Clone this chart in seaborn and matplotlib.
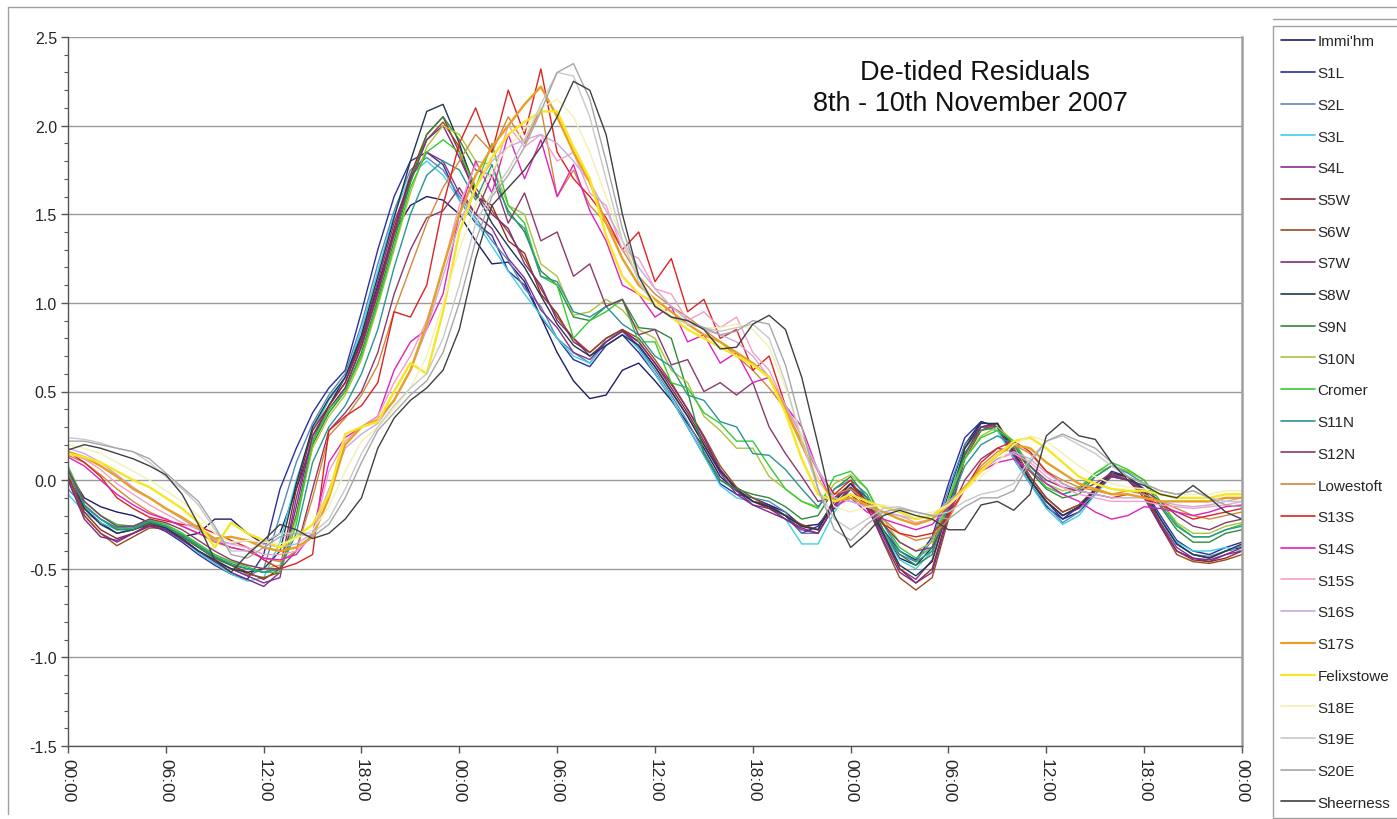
import matplotlib
matplotlib.use("Agg")
import matplotlib.pyplot as plt
from matplotlib.lines import Line2D
from matplotlib.ticker import MultipleLocator, FormatStrFormatter
import numpy as np
import pandas as pd
import seaborn as sns

# ---------------- data (hourly, 00:00 8 Nov -> 00:00 11 Nov 2007) ----------------
hours = list(range(0, 73))
tick_hours = list(range(0, 73, 6))
tick_labels = ["00:00", "06:00", "12:00", "18:00"] * 3 + ["00:00"]

immingham = [0.05, -0.10, -0.15, -0.18, -0.20, -0.24, -0.27, -0.32, -0.30, -0.22, -0.22, -0.30,
             -0.36, -0.30, -0.05, 0.22, 0.42, 0.58, 0.80, 1.10, 1.40, 1.55, 1.60, 1.58,
             1.50, 1.35, 1.22, 1.23, 1.12, 0.92, 0.72, 0.56, 0.46, 0.48, 0.62, 0.66,
             0.56, 0.45, 0.32, 0.18, 0.02, -0.06, -0.12, -0.14, -0.18, -0.26, -0.25, -0.16,
             -0.08, -0.16, -0.30, -0.44, -0.48, -0.38, -0.08, 0.20, 0.33, 0.30, 0.12, -0.02,
             -0.15, -0.22, -0.18, -0.08, 0.03, 0.00, -0.08, -0.22, -0.36, -0.42, -0.44, -0.40,
             -0.38]
s1l = [0.02, -0.16, -0.24, -0.30, -0.28, -0.25, -0.29, -0.35, -0.42, -0.48, -0.53, -0.56,
       -0.42, -0.05, 0.18, 0.38, 0.52, 0.62, 0.95, 1.30, 1.60, 1.80, 1.85, 1.78,
       1.58, 1.45, 1.38, 1.18, 1.10, 0.92, 0.80, 0.68, 0.64, 0.76, 0.82, 0.72,
       0.60, 0.46, 0.30, 0.14, -0.02, -0.08, -0.10, -0.14, -0.20, -0.30, -0.26, -0.12,
       -0.02, -0.10, -0.28, -0.40, -0.45, -0.32, -0.02, 0.24, 0.33, 0.30, 0.15, 0.00,
       -0.12, -0.22, -0.15, -0.05, 0.05, 0.02, -0.05, -0.20, -0.34, -0.40, -0.42, -0.38,
       -0.35]
s2l = [-0.05, -0.15, -0.22, -0.27, -0.26, -0.24, -0.28, -0.33, -0.40, -0.46, -0.50, -0.54,
       -0.50, -0.20, 0.10, 0.32, 0.48, 0.60, 0.88, 1.22, 1.52, 1.75, 1.82, 1.75,
       1.60, 1.48, 1.35, 1.24, 1.08, 0.98, 0.80, 0.72, 0.66, 0.78, 0.85, 0.75,
       0.62, 0.48, 0.33, 0.16, 0.00, -0.06, -0.10, -0.12, -0.18, -0.30, -0.30, -0.14,
       -0.04, -0.12, -0.30, -0.42, -0.46, -0.34, -0.05, 0.20, 0.30, 0.28, 0.14, 0.00,
       -0.14, -0.24, -0.18, -0.06, 0.04, 0.00, -0.06, -0.22, -0.36, -0.42, -0.43, -0.40,
       -0.37]
s3l = [-0.08, -0.18, -0.24, -0.28, -0.27, -0.23, -0.27, -0.33, -0.41, -0.47, -0.53, -0.57,
       -0.55, -0.35, 0.00, 0.28, 0.45, 0.58, 0.85, 1.18, 1.50, 1.72, 1.80, 1.72,
       1.58, 1.46, 1.32, 1.18, 1.05, 0.93, 0.80, 0.70, 0.66, 0.80, 0.84, 0.74,
       0.60, 0.46, 0.30, 0.14, -0.03, -0.10, -0.12, -0.15, -0.22, -0.36, -0.36, -0.18,
       -0.05, -0.12, -0.30, -0.45, -0.50, -0.40, -0.10, 0.18, 0.30, 0.28, 0.12, -0.02,
       -0.16, -0.25, -0.20, -0.08, 0.02, 0.00, -0.06, -0.22, -0.35, -0.40, -0.40, -0.38,
       -0.40]
s4l = [0.00, -0.20, -0.30, -0.35, -0.30, -0.26, -0.28, -0.34, -0.40, -0.45, -0.50, -0.54,
       -0.58, -0.55, -0.10, 0.25, 0.42, 0.55, 0.80, 1.12, 1.45, 1.70, 1.85, 1.80,
       1.62, 1.50, 1.42, 1.25, 1.14, 0.96, 0.86, 0.72, 0.68, 0.78, 0.84, 0.76,
       0.64, 0.50, 0.36, 0.20, 0.04, -0.08, -0.14, -0.16, -0.22, -0.28, -0.30, -0.15,
       -0.05, -0.15, -0.32, -0.50, -0.56, -0.45, -0.15, 0.18, 0.30, 0.30, 0.14, 0.00,
       -0.12, -0.20, -0.15, -0.06, 0.02, 0.00, -0.08, -0.24, -0.38, -0.44, -0.46, -0.42,
       -0.38]
s5w = [0.02, -0.18, -0.28, -0.33, -0.30, -0.25, -0.27, -0.32, -0.38, -0.44, -0.48, -0.52,
       -0.56, -0.50, -0.05, 0.28, 0.42, 0.55, 0.78, 1.08, 1.42, 1.72, 1.95, 2.05,
       1.85, 1.60, 1.55, 1.35, 1.28, 1.05, 0.94, 0.78, 0.72, 0.80, 0.85, 0.78,
       0.66, 0.52, 0.38, 0.22, 0.06, -0.05, -0.12, -0.16, -0.20, -0.26, -0.28, -0.10,
       -0.02, -0.12, -0.30, -0.50, -0.58, -0.50, -0.18, 0.15, 0.30, 0.32, 0.18, 0.02,
       -0.10, -0.18, -0.14, -0.05, 0.04, 0.02, -0.08, -0.25, -0.40, -0.45, -0.46, -0.44,
       -0.40]
s6w = [0.04, -0.20, -0.30, -0.37, -0.32, -0.27, -0.27, -0.31, -0.37, -0.43, -0.48, -0.53,
       -0.55, -0.52, -0.20, 0.22, 0.40, 0.52, 0.75, 1.05, 1.38, 1.68, 1.92, 2.02,
       1.88, 1.65, 1.52, 1.40, 1.25, 1.08, 0.92, 0.80, 0.72, 0.80, 0.85, 0.80,
       0.68, 0.55, 0.40, 0.25, 0.08, -0.04, -0.10, -0.15, -0.20, -0.25, -0.28, -0.12,
       -0.02, -0.14, -0.35, -0.55, -0.62, -0.55, -0.22, 0.12, 0.28, 0.32, 0.18, 0.02,
       -0.10, -0.18, -0.14, -0.05, 0.03, 0.02, -0.08, -0.26, -0.42, -0.46, -0.47, -0.45,
       -0.42]
s7w = [0.00, -0.22, -0.32, -0.34, -0.30, -0.26, -0.28, -0.33, -0.40, -0.46, -0.52, -0.56,
       -0.60, -0.52, -0.15, 0.25, 0.40, 0.52, 0.76, 1.06, 1.40, 1.70, 1.92, 2.00,
       1.82, 1.62, 1.50, 1.42, 1.22, 1.10, 0.90, 0.80, 0.70, 0.78, 0.84, 0.78,
       0.66, 0.54, 0.40, 0.24, 0.06, -0.06, -0.14, -0.18, -0.22, -0.27, -0.30, -0.14,
       -0.04, -0.15, -0.34, -0.52, -0.58, -0.52, -0.20, 0.14, 0.30, 0.32, 0.16, 0.00,
       -0.12, -0.20, -0.16, -0.06, 0.02, 0.00, -0.10, -0.26, -0.40, -0.44, -0.45, -0.42,
       -0.40]
s8w = [0.06, -0.16, -0.25, -0.30, -0.28, -0.24, -0.27, -0.33, -0.40, -0.45, -0.50, -0.52,
       -0.50, -0.40, -0.02, 0.30, 0.46, 0.58, 0.82, 1.15, 1.48, 1.80, 2.08, 2.12,
       1.90, 1.62, 1.45, 1.32, 1.20, 1.04, 0.88, 0.76, 0.70, 0.76, 0.82, 0.76,
       0.64, 0.50, 0.36, 0.20, 0.05, -0.05, -0.12, -0.15, -0.20, -0.26, -0.28, -0.12,
       -0.02, -0.12, -0.30, -0.48, -0.54, -0.46, -0.15, 0.18, 0.32, 0.32, 0.16, 0.00,
       -0.12, -0.20, -0.15, -0.05, 0.04, 0.02, -0.06, -0.22, -0.36, -0.42, -0.44, -0.40,
       -0.36]
s9n = [0.06, -0.14, -0.22, -0.28, -0.28, -0.24, -0.26, -0.32, -0.38, -0.44, -0.48, -0.50,
       -0.52, -0.50, -0.20, 0.20, 0.38, 0.50, 0.72, 1.02, 1.35, 1.68, 1.95, 2.05,
       1.92, 1.75, 1.72, 1.52, 1.40, 1.18, 1.10, 0.92, 0.90, 0.98, 1.02, 0.86,
       0.85, 0.80, 0.50, 0.15, 0.00, -0.05, -0.08, -0.10, -0.15, -0.22, -0.20, -0.05,
       0.02, -0.10, -0.28, -0.42, -0.48, -0.42, -0.12, 0.15, 0.28, 0.30, 0.20, 0.05,
       -0.05, -0.10, -0.08, 0.02, 0.08, 0.05, 0.00, -0.15, -0.28, -0.35, -0.35, -0.30,
       -0.28]
s10n = [0.04, -0.12, -0.20, -0.26, -0.26, -0.22, -0.25, -0.30, -0.36, -0.42, -0.46, -0.48,
        -0.50, -0.48, -0.22, 0.18, 0.36, 0.48, 0.68, 0.98, 1.30, 1.62, 1.88, 2.00,
        1.95, 1.80, 1.78, 1.55, 1.50, 1.22, 1.15, 0.93, 0.95, 1.02, 0.96, 0.85,
        0.80, 0.62, 0.55, 0.36, 0.28, 0.18, 0.18, 0.02, -0.05, -0.12, -0.15, -0.02,
        0.03, -0.05, -0.22, -0.35, -0.40, -0.35, -0.10, 0.12, 0.25, 0.30, 0.22, 0.08,
        -0.02, -0.06, -0.04, 0.04, 0.08, 0.05, 0.00, -0.12, -0.24, -0.30, -0.30, -0.26,
        -0.24]
cromer = [0.08, -0.12, -0.20, -0.25, -0.26, -0.23, -0.25, -0.30, -0.36, -0.42, -0.46, -0.49,
          -0.52, -0.52, -0.25, 0.22, 0.40, 0.50, 0.70, 1.00, 1.32, 1.65, 1.85, 1.92,
          1.85, 1.65, 1.90, 1.55, 1.45, 1.15, 1.10, 0.80, 0.90, 0.95, 1.02, 0.78,
          0.78, 0.55, 0.52, 0.38, 0.32, 0.22, 0.22, 0.08, -0.05, -0.12, -0.16, 0.02,
          0.05, -0.05, -0.24, -0.38, -0.44, -0.38, -0.12, 0.12, 0.24, 0.28, 0.22, 0.06,
          -0.04, -0.08, -0.05, 0.04, 0.10, 0.06, 0.00, -0.12, -0.25, -0.32, -0.32, -0.28,
          -0.25]
s11n = [0.05, -0.14, -0.22, -0.27, -0.27, -0.23, -0.26, -0.31, -0.37, -0.43, -0.47, -0.50,
        -0.52, -0.50, -0.30, 0.10, 0.30, 0.42, 0.60, 0.85, 1.20, 1.50, 1.72, 1.80,
        1.75, 1.58, 1.78, 1.50, 1.42, 1.15, 1.12, 0.95, 0.92, 0.98, 0.88, 0.82,
        0.70, 0.64, 0.48, 0.45, 0.33, 0.30, 0.15, 0.14, 0.06, -0.05, -0.15, -0.05,
        0.00, -0.08, -0.25, -0.40, -0.46, -0.40, -0.15, 0.08, 0.20, 0.25, 0.20, 0.08,
        -0.02, -0.08, -0.05, 0.02, 0.08, 0.04, -0.02, -0.14, -0.26, -0.32, -0.32, -0.28,
        -0.26]
s12n = [0.06, -0.12, -0.20, -0.26, -0.26, -0.22, -0.24, -0.28, -0.34, -0.40, -0.45, -0.48,
        -0.50, -0.50, -0.40, -0.05, 0.28, 0.38, 0.50, 0.72, 1.05, 1.30, 1.48, 1.52,
        1.65, 1.50, 1.72, 1.45, 1.62, 1.35, 1.40, 1.15, 1.22, 0.98, 1.02, 0.82,
        0.85, 0.65, 0.68, 0.50, 0.55, 0.48, 0.55, 0.30, 0.15, 0.02, -0.12, -0.10,
        -0.05, -0.12, -0.25, -0.35, -0.40, -0.38, -0.20, 0.00, 0.12, 0.18, 0.16, 0.08,
        0.00, -0.04, -0.06, -0.02, 0.04, 0.00, -0.06, -0.12, -0.20, -0.26, -0.28, -0.24,
        -0.22]
lowestoft = [0.14, 0.10, 0.03, -0.05, -0.12, -0.18, -0.22, -0.26, -0.30, -0.35, -0.38, -0.40,
             -0.44, -0.46, -0.40, -0.10, 0.25, 0.35, 0.48, 0.65, 0.95, 1.20, 1.45, 1.65,
             1.80, 1.95, 1.85, 2.05, 1.90, 2.10, 1.60, 1.75, 1.55, 1.45, 1.30, 1.15,
             1.05, 0.98, 0.92, 0.85, 0.78, 0.70, 0.62, 0.52, 0.40, 0.22, 0.05, -0.08,
             -0.05, -0.12, -0.22, -0.30, -0.34, -0.32, -0.22, -0.05, 0.08, 0.16, 0.20, 0.15,
             0.05, 0.00, -0.04, -0.06, -0.08, -0.06, -0.08, -0.12, -0.16, -0.20, -0.22, -0.20,
             -0.18]
s13s = [0.16, 0.10, 0.02, -0.10, -0.16, -0.21, -0.23, -0.25, -0.26, -0.30, -0.34, -0.38,
        -0.45, -0.50, -0.47, -0.42, 0.28, 0.36, 0.42, 0.55, 0.95, 0.92, 1.10, 1.55,
        1.90, 2.10, 1.85, 2.20, 1.95, 2.32, 1.85, 1.70, 1.60, 1.48, 1.30, 1.40,
        1.12, 1.25, 0.95, 1.02, 0.80, 0.85, 0.62, 0.70, 0.42, 0.25, 0.05, -0.08,
        0.00, -0.15, -0.25, -0.30, -0.32, -0.30, -0.20, -0.05, 0.10, 0.18, 0.22, 0.16,
        0.05, -0.02, -0.06, -0.08, -0.10, -0.08, -0.10, -0.14, -0.18, -0.22, -0.20, -0.18,
        -0.16]
s14s = [0.13, 0.08, 0.00, -0.08, -0.14, -0.19, -0.22, -0.26, -0.30, -0.34, -0.38, -0.40,
        -0.44, -0.45, -0.42, -0.30, 0.10, 0.24, 0.30, 0.36, 0.62, 0.78, 0.85, 1.05,
        1.50, 1.80, 1.62, 1.95, 1.70, 1.92, 1.60, 1.78, 1.52, 1.35, 1.10, 1.05,
        0.92, 0.98, 0.78, 0.82, 0.66, 0.72, 0.55, 0.58, 0.42, 0.30, 0.05, -0.15,
        -0.10, -0.18, -0.22, -0.25, -0.28, -0.25, -0.15, -0.05, 0.05, 0.10, 0.12, 0.05,
        -0.02, -0.08, -0.12, -0.18, -0.22, -0.20, -0.15, -0.16, -0.18, -0.20, -0.18, -0.15,
        -0.14]
s15s = [0.15, 0.12, 0.06, -0.02, -0.08, -0.14, -0.19, -0.24, -0.28, -0.33, -0.36, -0.38,
        -0.42, -0.42, -0.40, -0.32, 0.05, 0.22, 0.30, 0.36, 0.55, 0.70, 0.90, 1.20,
        1.55, 1.78, 1.70, 2.00, 1.88, 1.95, 1.80, 1.85, 1.62, 1.55, 1.30, 1.25,
        1.08, 1.05, 0.90, 0.95, 0.86, 0.92, 0.72, 0.62, 0.42, 0.25, 0.05, -0.10,
        -0.12, -0.15, -0.18, -0.20, -0.24, -0.22, -0.14, -0.04, 0.06, 0.12, 0.15, 0.10,
        0.02, -0.04, -0.08, -0.10, -0.12, -0.12, -0.12, -0.14, -0.15, -0.16, -0.15, -0.14,
        -0.12]
s16s = [0.18, 0.15, 0.10, 0.03, -0.04, -0.10, -0.16, -0.22, -0.28, -0.34, -0.36, -0.34,
        -0.36, -0.38, -0.36, -0.30, -0.05, 0.18, 0.26, 0.32, 0.45, 0.62, 0.85, 1.15,
        1.45, 1.65, 1.80, 1.88, 1.92, 1.95, 1.90, 1.80, 1.68, 1.52, 1.35, 1.20,
        1.08, 0.98, 0.90, 0.85, 0.82, 0.78, 0.70, 0.58, 0.42, 0.25, 0.06, -0.10,
        -0.12, -0.15, -0.18, -0.20, -0.22, -0.20, -0.12, -0.04, 0.05, 0.12, 0.16, 0.12,
        0.04, -0.02, -0.06, -0.08, -0.10, -0.10, -0.10, -0.12, -0.14, -0.15, -0.14, -0.12,
        -0.10]
s17s = [0.16, 0.13, 0.08, 0.02, -0.05, -0.10, -0.16, -0.21, -0.27, -0.33, -0.32, -0.34,
        -0.38, -0.40, -0.38, -0.32, -0.10, 0.20, 0.30, 0.34, 0.45, 0.62, 0.88, 1.20,
        1.50, 1.72, 1.88, 2.00, 2.12, 2.22, 2.05, 1.85, 1.68, 1.45, 1.25, 1.10,
        1.02, 0.95, 0.88, 0.82, 0.78, 0.72, 0.66, 0.58, 0.40, 0.20, 0.00, -0.12,
        -0.10, -0.14, -0.18, -0.22, -0.25, -0.22, -0.14, -0.04, 0.06, 0.14, 0.20, 0.18,
        0.10, 0.04, -0.02, -0.05, -0.08, -0.08, -0.10, -0.12, -0.12, -0.12, -0.12, -0.10,
        -0.10]
felixstowe = [0.15, 0.13, 0.10, 0.05, 0.00, -0.04, -0.10, -0.16, -0.24, -0.38, -0.24, -0.30,
              -0.34, -0.38, -0.32, -0.25, -0.08, 0.26, 0.30, 0.33, 0.50, 0.66, 0.60, 0.95,
              1.40, 1.65, 1.82, 1.95, 2.02, 2.08, 2.08, 1.88, 1.70, 1.38, 1.15, 1.05,
              1.00, 0.92, 0.85, 0.80, 0.75, 0.70, 0.65, 0.58, 0.38, 0.12, -0.08, -0.12,
              -0.08, -0.12, -0.15, -0.18, -0.22, -0.20, -0.14, -0.05, 0.05, 0.14, 0.22, 0.24,
              0.18, 0.10, 0.02, -0.02, -0.05, -0.06, -0.06, -0.08, -0.10, -0.10, -0.10, -0.08,
              -0.08]
s18e = [0.20, 0.18, 0.15, 0.10, 0.05, 0.00, -0.06, -0.12, -0.20, -0.30, -0.35, -0.34,
        -0.35, -0.36, -0.33, -0.28, -0.15, 0.05, 0.22, 0.30, 0.40, 0.52, 0.70, 1.00,
        1.30, 1.55, 1.75, 1.88, 1.98, 2.10, 2.15, 2.05, 1.85, 1.60, 1.35, 1.15,
        1.00, 0.92, 0.88, 0.86, 0.86, 0.88, 0.85, 0.75, 0.52, 0.25, 0.00, -0.15,
        -0.18, -0.15, -0.14, -0.16, -0.20, -0.18, -0.14, -0.06, 0.02, 0.10, 0.20, 0.25,
        0.22, 0.15, 0.08, 0.02, -0.02, -0.04, -0.05, -0.06, -0.08, -0.08, -0.08, -0.06,
        -0.06]
s19e = [0.24, 0.23, 0.21, 0.18, 0.16, 0.10, 0.02, -0.05, -0.14, -0.28, -0.40, -0.40,
        -0.35, -0.30, -0.30, -0.30, -0.22, -0.05, 0.15, 0.30, 0.42, 0.52, 0.60, 0.80,
        1.10, 1.45, 1.62, 1.75, 1.92, 2.12, 2.30, 2.28, 2.05, 1.70, 1.35, 1.12,
        0.98, 0.92, 0.88, 0.86, 0.84, 0.86, 0.88, 0.80, 0.55, 0.22, -0.05, -0.22,
        -0.28, -0.22, -0.16, -0.15, -0.18, -0.20, -0.18, -0.12, -0.08, -0.06, -0.02, 0.12,
        0.22, 0.25, 0.20, 0.15, 0.08, 0.02, -0.02, -0.06, -0.08, -0.06, -0.10, -0.12,
        -0.12]
s20e = [0.22, 0.22, 0.20, 0.18, 0.16, 0.12, 0.04, -0.04, -0.12, -0.26, -0.42, -0.44,
        -0.38, -0.32, -0.30, -0.32, -0.25, -0.10, 0.10, 0.28, 0.38, 0.48, 0.56, 0.72,
        1.00, 1.35, 1.60, 1.72, 1.88, 2.08, 2.30, 2.35, 2.15, 1.80, 1.42, 1.15,
        0.98, 0.92, 0.90, 0.86, 0.82, 0.84, 0.90, 0.88, 0.65, 0.30, -0.05, -0.28,
        -0.34, -0.25, -0.18, -0.16, -0.18, -0.20, -0.22, -0.15, -0.10, -0.10, -0.06, 0.10,
        0.22, 0.26, 0.22, 0.18, 0.10, 0.02, -0.02, -0.06, -0.08, -0.06, -0.10, -0.14,
        -0.15]
sheerness = [0.17, 0.20, 0.18, 0.15, 0.12, 0.08, 0.03, -0.08, -0.25, -0.45, -0.52, -0.42,
             -0.34, -0.25, -0.28, -0.33, -0.30, -0.22, -0.10, 0.18, 0.35, 0.45, 0.52, 0.62,
             0.85, 1.25, 1.55, 1.65, 1.75, 1.88, 2.05, 2.25, 2.20, 1.95, 1.50, 1.15,
             0.98, 0.92, 0.90, 0.85, 0.74, 0.75, 0.88, 0.93, 0.85, 0.58, 0.20, -0.20,
             -0.38, -0.30, -0.20, -0.17, -0.20, -0.22, -0.28, -0.28, -0.14, -0.12, -0.17, -0.08,
             0.25, 0.33, 0.25, 0.23, 0.10, 0.00, -0.03, -0.08, -0.10, -0.03, -0.10, -0.18,
             -0.22]

stations = ["Immi'hm", "S1L", "S2L", "S3L", "S4L", "S5W", "S6W", "S7W", "S8W", "S9N",
            "S10N", "Cromer", "S11N", "S12N", "Lowestoft", "S13S", "S14S", "S15S",
            "S16S", "S17S", "Felixstowe", "S18E", "S19E", "S20E", "Sheerness"]
series = [immingham, s1l, s2l, s3l, s4l, s5w, s6w, s7w, s8w, s9n, s10n, cromer, s11n,
          s12n, lowestoft, s13s, s14s, s15s, s16s, s17s, felixstowe, s18e, s19e, s20e,
          sheerness]
colors = ["#1E1E66", "#2A2F9C", "#5B86B6", "#3ED0E2", "#8A2E8E", "#8E2B2B", "#9A4A1C",
          "#7E2A86", "#1E3A4E", "#2E8B3A", "#AAC43C", "#33CC33", "#2A9494", "#8B3A6E",
          "#D2883A", "#DD2222", "#E020C0", "#F2A0C8", "#C8AADF", "#E8A024", "#F6E624",
          "#F4F0B0", "#C8C8C8", "#A6A6A6", "#404040"]

# ---------------- figure ----------------
sns.set_style("white")
plt.rcParams["font.family"] = ["Liberation Sans", "DejaVu Sans"]

df = pd.concat([pd.DataFrame({"hour": hours, "residual": vals, "station": name})
                for name, vals in zip(stations, series)], ignore_index=True)

W, H = 1397, 820
fig = plt.figure(figsize=(W / 100, H / 100), dpi=100)
ax = fig.add_axes([68 / W, 1 - 747 / H, (1242 - 68) / W, (747 - 38) / H])

palette = dict(zip(stations, colors))
sns.lineplot(data=df, x="hour", y="residual", hue="station", hue_order=stations,
             palette=palette, estimator=None, sort=False, linewidth=1.0,
             legend=False, ax=ax)
for line, name in zip(ax.lines, stations):
    if name in ("Felixstowe", "S17S"):
        line.set_linewidth(1.7)

ax.set_xlim(0, 72)
ax.set_ylim(-1.5, 2.5)
ax.set_xticks(tick_hours)
ax.set_xticklabels(tick_labels, rotation=-90, fontsize=12.5, va="top", ha="center")
ax.yaxis.set_major_locator(MultipleLocator(0.5))
ax.yaxis.set_minor_locator(MultipleLocator(0.1))
ax.yaxis.set_major_formatter(FormatStrFormatter("%.1f"))
ax.tick_params(axis="y", which="major", labelsize=11.5, length=5, width=1.0,
               color="#555555", direction="out", left=True, pad=3)
ax.tick_params(axis="y", which="minor", length=3, width=0.8, color="#555555",
               direction="out", left=True)
ax.tick_params(axis="x", which="major", length=5, width=1.0, color="#555555",
               direction="out", bottom=True, pad=4)
ax.set_xlabel("")
ax.set_ylabel("")
ax.grid(axis="y", which="major", color="#9A9A9A", linewidth=1.0)
ax.grid(axis="x", visible=False)
ax.set_axisbelow(True)
for side in ("left", "bottom"):
    ax.spines[side].set_color("#555555")
    ax.spines[side].set_linewidth(1.0)
ax.spines["top"].set_visible(False)
ax.spines["right"].set_color("#A0A0A0")
ax.spines["right"].set_linewidth(1.8)

# title
fig.text(975 / W, 1 - 73 / H, "De-tided Residuals", ha="center", va="center",
         fontsize=19.5, color="#111111")
fig.text(970 / W, 1 - 104 / H, "8th - 10th November 2007", ha="center", va="center",
         fontsize=19.5, color="#111111")

# legend
handles = [Line2D([0], [0], color=c, lw=1.6 if n in ("Felixstowe", "S17S") else 1.2)
           for n, c in zip(stations, colors)]
leg = fig.legend(handles, stations, loc="upper left",
                 bbox_to_anchor=(1273 / W, 1 - 27 / H), bbox_transform=fig.transFigure,
                 fontsize=11.0, frameon=True, fancybox=False, borderpad=0.55,
                 labelspacing=1.16, handlelength=2.2, handletextpad=0.15,
                 borderaxespad=0.0)
leg.get_frame().set_edgecolor("#8A8A8A")
leg.get_frame().set_linewidth(1.0)

# outer chart border pieces
fig.add_artist(Line2D([8 / W, 8 / W], [1 - 8 / H, 1 - 815 / H], transform=fig.transFigure,
                      color="#A0A0A0", lw=1.0))
fig.add_artist(Line2D([8 / W, 1 - 1 / W], [1 - 8 / H, 1 - 8 / H], transform=fig.transFigure,
                      color="#A0A0A0", lw=1.0))
fig.add_artist(Line2D([1273 / W, 1 - 1 / W], [1 - 20 / H, 1 - 20 / H],
                      transform=fig.transFigure, color="#A0A0A0", lw=1.0))

fig.savefig("out.png", dpi=100)
